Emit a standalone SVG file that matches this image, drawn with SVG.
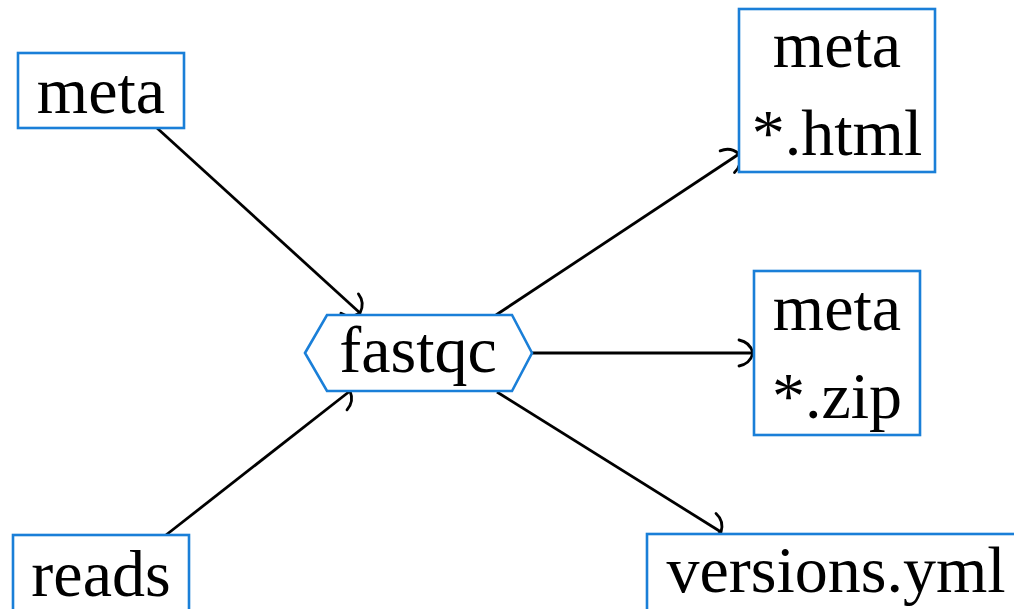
<svg xmlns="http://www.w3.org/2000/svg" width="1014" height="609" viewBox="0 0 1014 609">
<style>
.box{fill:#fff;stroke:#1a7fd8;stroke-width:2.6}
.t{font-family:"Liberation Serif",serif;font-size:66px;fill:#000;text-anchor:middle}
.e{fill:none;stroke:#000;stroke-width:2.8}
</style>
<defs>
<marker id="arr" markerUnits="userSpaceOnUse" markerWidth="40" markerHeight="40" refX="20" refY="20" orient="auto">
<path d="M 6,7 Q 17,9 20,20 Q 17,31 6,33" fill="none" stroke="#000" stroke-width="2.8" stroke-linecap="round"/>
</marker>
</defs>
<rect width="1014" height="609" fill="#fff"/>
<g id="connectors">
<line class="e" x1="157" y1="128" x2="360" y2="313" marker-end="url(#arr)"/>
<line class="e" x1="166" y1="535" x2="350" y2="391" marker-end="url(#arr)"/>
<line class="e" x1="496" y1="315" x2="739" y2="154" marker-end="url(#arr)"/>
<line class="e" x1="532" y1="353" x2="753" y2="353" marker-end="url(#arr)"/>
<line class="e" x1="497" y1="392" x2="721" y2="532" marker-end="url(#arr)"/>
</g>
<g id="meta-in">
<rect class="box" x="18" y="53" width="166" height="75"/>
<text class="t" x="101" y="113">meta</text>
</g>
<g id="reads">
<rect class="box" x="13" y="535" width="176" height="90"/>
<text class="t" x="101" y="596">reads</text>
</g>
<g id="fastqc">
<polygon class="box" points="305,353 327,315 512,315 532,353 512,391 327,391"/>
<text class="t" x="418" y="372">fastqc</text>
</g>
<g id="html">
<rect class="box" x="739" y="9" width="196" height="163"/>
<text class="t" x="837" y="67">meta</text>
<text class="t" x="837" y="155">*.html</text>
</g>
<g id="zip">
<rect class="box" x="754" y="271" width="166" height="164"/>
<text class="t" x="837" y="330">meta</text>
<text class="t" x="837" y="418">*.zip</text>
</g>
<g id="versions">
<rect class="box" x="647" y="534" width="380" height="90"/>
<text class="t" x="836" y="592">versions.yml</text>
</g>
</svg>
